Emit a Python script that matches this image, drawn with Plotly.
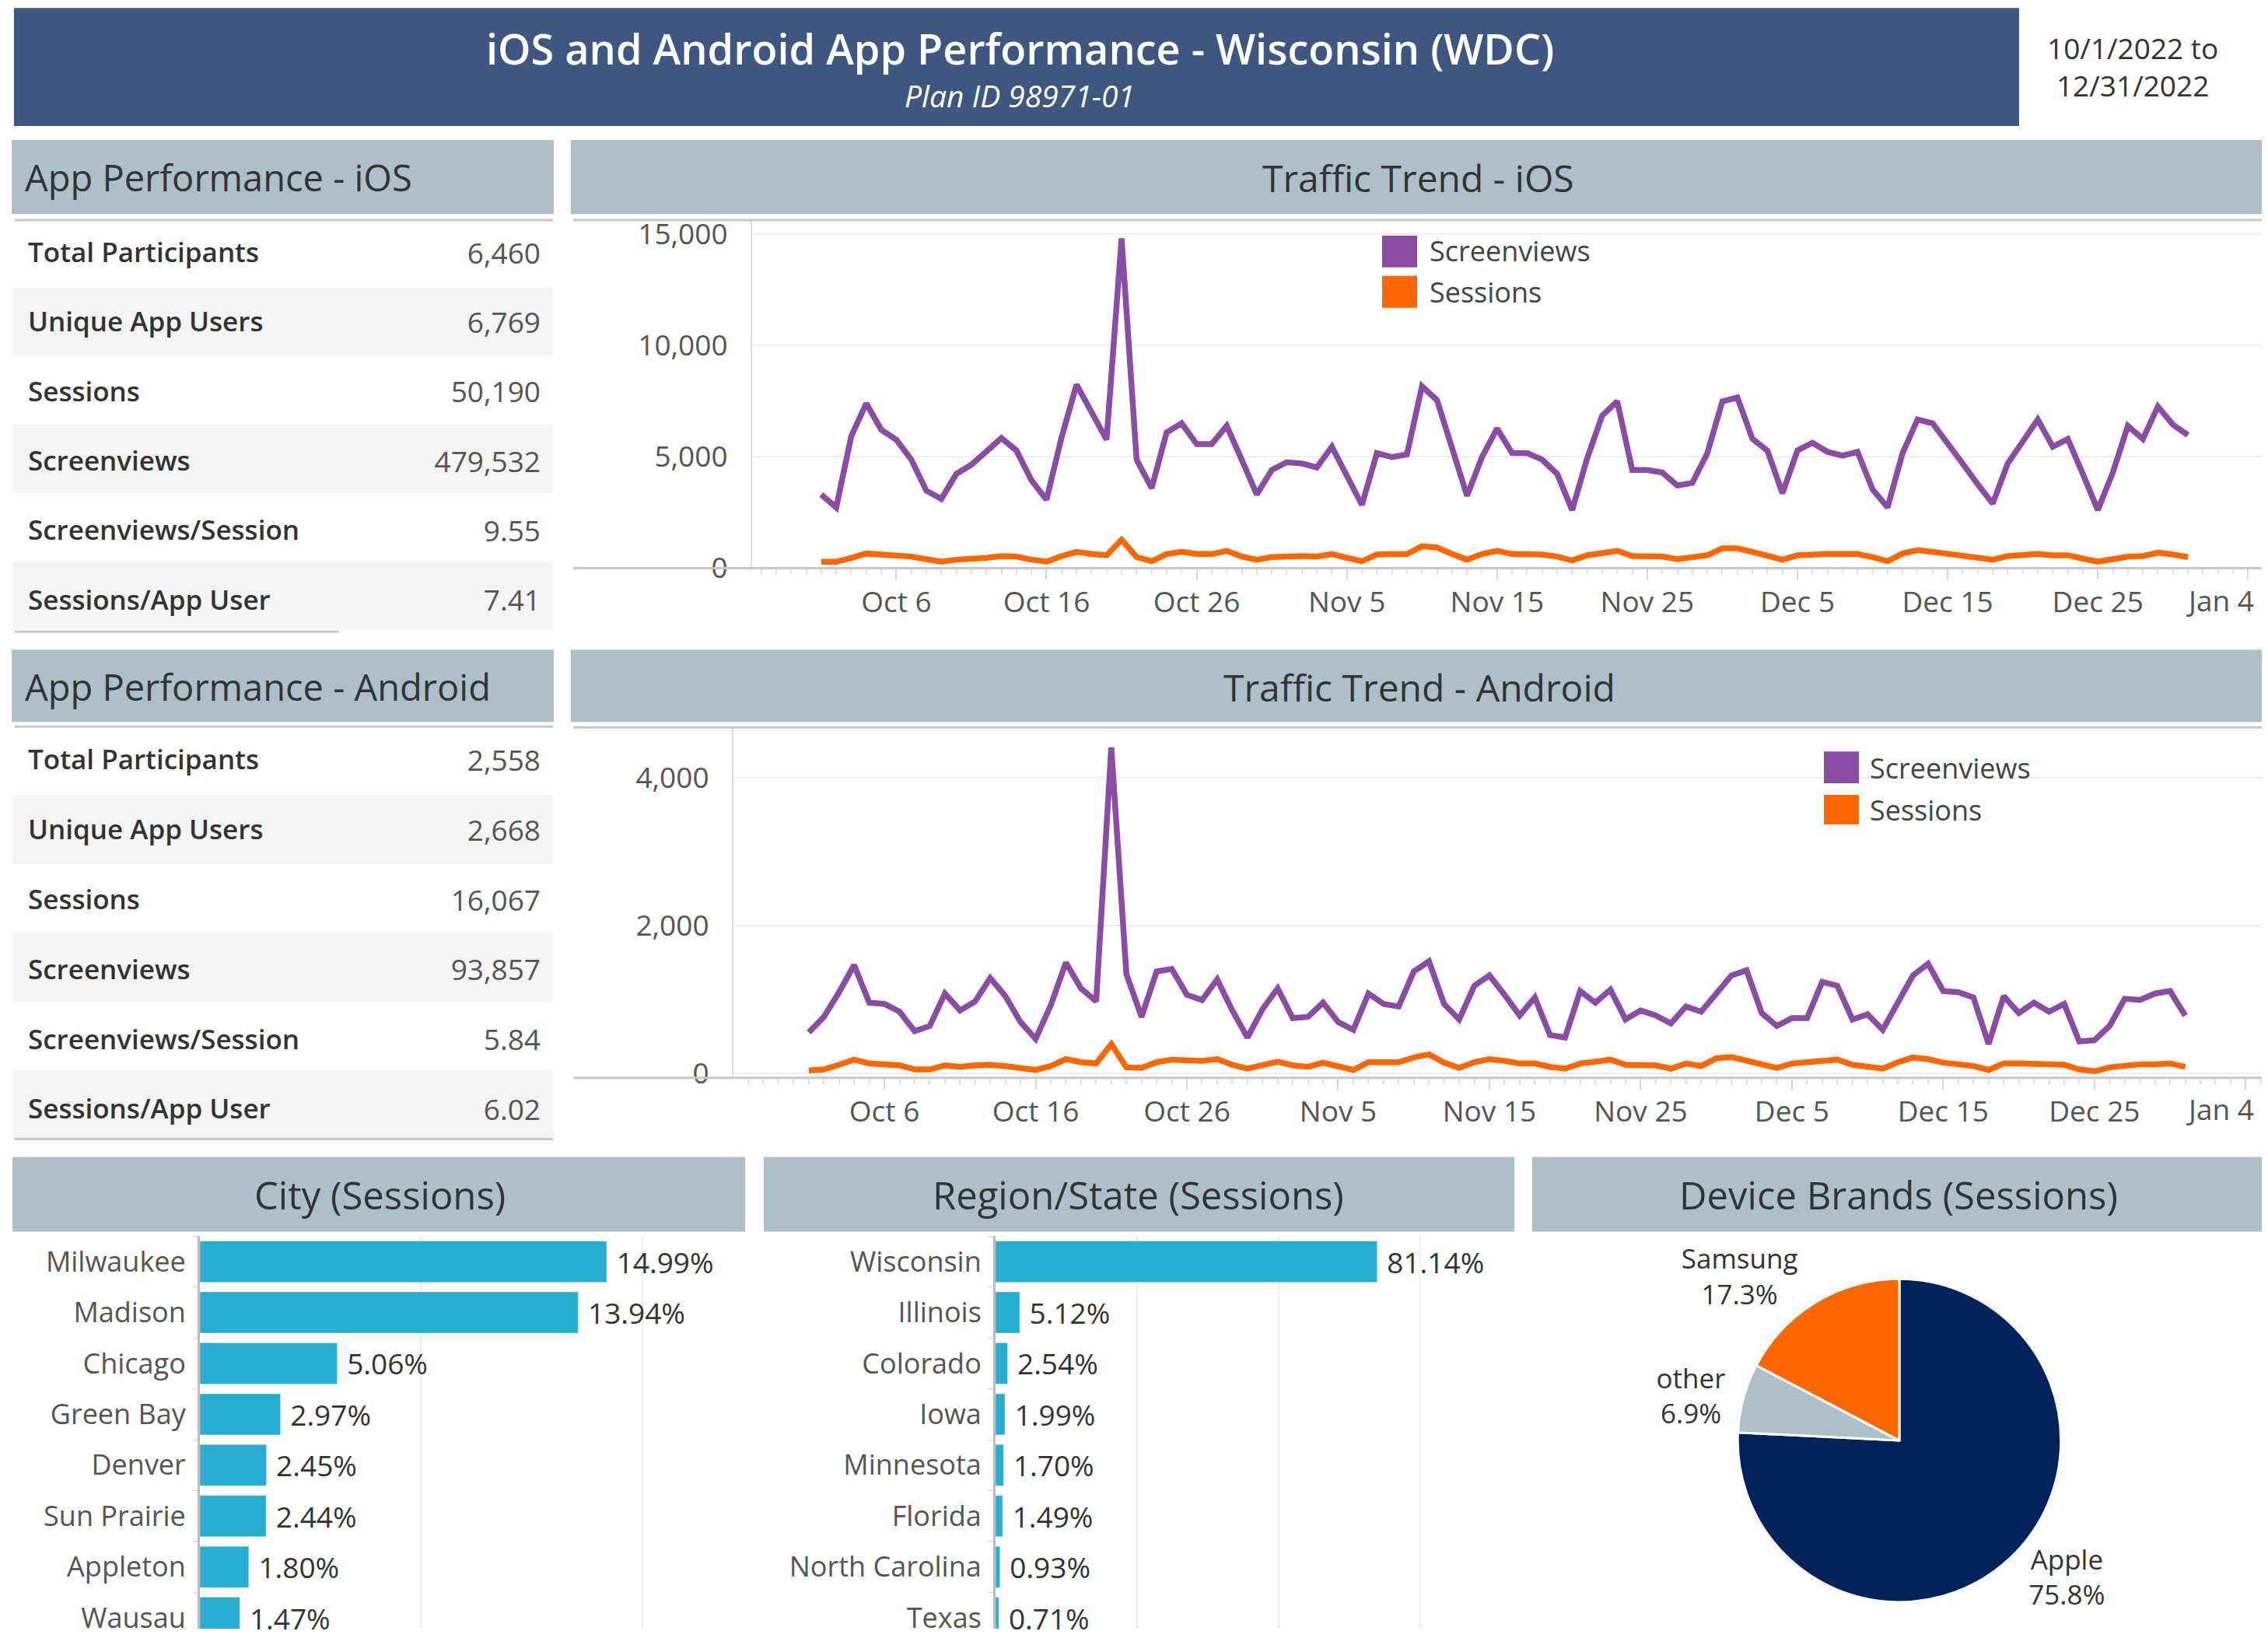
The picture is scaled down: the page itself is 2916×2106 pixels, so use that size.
import plotly.graph_objects as go
import pandas as pd

W, H = 2916, 2106
# the rendered page shows up shifted and slightly squeezed vertically;
# these constants map the reference's pixel positions onto figure pixels
OFFX, OFFY = 8, 17
SY = 0.9855
FW, FH = W - 16, 2110
FONT = "Open Sans"
PURPLE = "#8b4ca5"
ORANGE = "#ff6600"
BANNER = "#3e5781"
HEAD = "#adc0c8"
BLUE = "#27adcf"
NAVY = "#00235a"
GREYBLUE = "#aebfc8"

# ---------------- data ----------------
dates = pd.date_range("2022-10-01", "2022-12-31", freq="D")

ios_screenviews = [3304, 2724, 5918, 7393, 6208, 5766, 4872, 3478, 3106, 4233,
                   4640, 5279, 5836, 5279, 3943, 3072, 5859, 8240, 7021, 5766,
                   14802, 4872, 3594, 6092, 6499, 5569, 5569, 6383, 4872, 3304,
                   4407, 4756, 4698, 4523, 5453, 4117, 2840, 5163, 4988, 5105,
                   8160, 7544, 5453, 3246, 4988, 6266, 5163, 5163, 4872, 4233,
                   2607, 4930, 6848, 7487, 4407, 4407, 4291, 3710, 3826, 5163,
                   7487, 7661, 5801, 5279, 3362, 5279, 5627, 5221, 5047, 5221,
                   3536, 2724, 5163, 6673, 6499, 5627, 4698, 3768, 2897, 4698,
                   5743, 6673, 5453, 5801, 4233, 2607, 4291, 6383, 5801, 7254,
                   6441, 5976]
ios_sessions = [285, 285, 459, 656, 610, 575, 517, 400, 285, 377,
                400, 459, 540, 517, 377, 285, 540, 726, 633, 575,
                1272, 494, 308, 633, 726, 633, 633, 772, 517, 377,
                494, 540, 540, 517, 633, 459, 308, 610, 633, 633,
                981, 923, 633, 377, 633, 772, 633, 610, 610, 517,
                343, 575, 691, 772, 540, 540, 517, 400, 494, 575,
                888, 888, 726, 575, 377, 575, 633, 633, 633, 633,
                494, 308, 656, 807, 726, 633, 575, 424, 377, 540,
                575, 633, 575, 575, 424, 285, 400, 517, 540, 691,
                610, 494]
and_screenviews = [551, 761, 1095, 1463, 954, 937, 832, 568, 639, 1077,
                   849, 972, 1288, 1042, 691, 463, 919, 1498, 1147, 972,
                   4411, 1340, 761, 1376, 1411, 1060, 990, 1270, 849, 481,
                   867, 1147, 744, 761, 954, 691, 586, 1077, 937, 902,
                   1376, 1516, 937, 726, 1183, 1323, 1060, 779, 1025, 516,
                   481, 1112, 954, 1130, 726, 849, 779, 674, 902, 832,
                   1077, 1323, 1393, 814, 639, 744, 744, 1235, 1183, 726,
                   797, 586, 954, 1323, 1481, 1112, 1095, 1025, 393, 1042,
                   814, 954, 832, 937, 428, 446, 639, 1007, 990, 1077,
                   1112, 779]
and_sessions = [35, 49, 112, 182, 130, 119, 105, 49, 49, 105,
                84, 105, 112, 95, 77, 42, 95, 189, 147, 130,
                393, 77, 70, 147, 182, 165, 165, 189, 112, 60,
                112, 154, 105, 84, 140, 84, 42, 147, 147, 147,
                211, 253, 140, 70, 147, 189, 165, 130, 130, 84,
                60, 130, 154, 182, 112, 105, 105, 60, 130, 95,
                200, 218, 175, 112, 70, 130, 147, 147, 182, 112,
                95, 60, 147, 211, 189, 140, 119, 95, 42, 130,
                130, 130, 130, 112, 49, 25, 77, 105, 119, 119,
                130, 84]

kpi_labels = ["Total Participants", "Unique App Users", "Sessions",
              "Screenviews", "Screenviews/Session", "Sessions/App User"]
ios_kpis = [6460, 6769, 50190, 479532, 9.55, 7.41]
and_kpis = [2558, 2668, 16067, 93857, 5.84, 6.02]

cities = ["Milwaukee", "Madison", "Chicago", "Green Bay", "Denver",
          "Sun Prairie", "Appleton", "Wausau"]
city_pct = [14.99, 13.94, 5.06, 2.97, 2.45, 2.44, 1.80, 1.47]

regions = ["Wisconsin", "Illinois", "Colorado", "Iowa", "Minnesota",
           "Florida", "North Carolina", "Texas"]
region_pct = [81.14, 5.12, 2.54, 1.99, 1.70, 1.49, 0.93, 0.71]

brands = ["Apple", "other", "Samsung"]
brand_pct = [75.8, 6.9, 17.3]

title = "iOS and Android App Performance - Wisconsin (WDC)"
subtitle = "Plan ID 98971-01"
date_text = "10/1/2022 to<br>12/31/2022"
last_tick = "Jan 4"


# ---------------- helpers (picture pixels -> paper) ----------------
def px(x):
    return (x - OFFX) / FW


def py(y):
    return 1 - (y / SY - OFFY) / FH


def fmt(v):
    return f"{v:,}" if isinstance(v, int) else f"{v:.2f}"


fig = go.Figure()

# trend traces
LW = 7.5
fig.add_trace(go.Scatter(x=dates, y=ios_screenviews, mode="lines", name="Screenviews",
                         line=dict(color=PURPLE, width=LW), xaxis="x", yaxis="y"))
fig.add_trace(go.Scatter(x=dates, y=ios_sessions, mode="lines", name="Sessions",
                         line=dict(color=ORANGE, width=LW), xaxis="x", yaxis="y"))
fig.add_trace(go.Scatter(x=dates, y=and_screenviews, mode="lines", name="Screenviews",
                         line=dict(color=PURPLE, width=LW), xaxis="x2", yaxis="y2"))
fig.add_trace(go.Scatter(x=dates, y=and_sessions, mode="lines", name="Sessions",
                         line=dict(color=ORANGE, width=LW), xaxis="x2", yaxis="y2"))

# bar traces
bar_text = dict(size=37, color="#333333", family=FONT)
fig.add_trace(go.Bar(x=city_pct, y=cities, orientation="h", marker_color=BLUE, width=0.81,
                     texttemplate="\u00a0%{x:.2f}%", textposition="outside", cliponaxis=False,
                     textfont=bar_text, xaxis="x3", yaxis="y3"))
fig.add_trace(go.Bar(x=region_pct, y=regions, orientation="h", marker_color=BLUE, width=0.81,
                     texttemplate="\u00a0%{x:.2f}%", textposition="outside", cliponaxis=False,
                     textfont=bar_text, xaxis="x4", yaxis="y4"))

# pie
fig.add_trace(go.Pie(labels=brands, values=brand_pct, sort=False, direction="clockwise",
                     rotation=0, marker=dict(colors=[NAVY, GREYBLUE, ORANGE],
                                             line=dict(color="white", width=3)),
                     textposition="outside", texttemplate="%{label}<br>%{percent:.1%}",
                     textfont=dict(size=35, color="#333333", family=FONT), automargin=False,
                     domain=dict(x=[px(2232), px(2652)], y=[py(2062), py(1646)])))


# KPI tables (row shading drawn as bands behind; table text centred in them)
def kpi_table(vals, band_top, rowh):
    rh = rowh / SY
    top = band_top + 17
    bottom = top + (4 + rh * len(kpi_labels) + 2) * SY
    return go.Table(
        domain=dict(x=[px(28), px(703)], y=[py(bottom), py(top)]),
        columnwidth=[430, 245],
        header=dict(values=["", ""], height=4, fill_color="rgba(0,0,0,0)",
                    line=dict(width=0)),
        cells=dict(values=[kpi_labels, [fmt(v) for v in vals]],
                   height=rh, align=["left", "right"],
                   fill_color="rgba(0,0,0,0)", line=dict(width=0),
                   font=dict(family=FONT, size=[35, 37], color=["#333333", "#555555"],
                             weight=[600, 400])))


IOS_TOP, AND_TOP = 282, 935
IOS_ROWH, AND_ROWH = 88, 88.5
fig.add_trace(kpi_table(ios_kpis, IOS_TOP, IOS_ROWH))
fig.add_trace(kpi_table(and_kpis, AND_TOP, AND_ROWH))

tickfont = dict(family=FONT, size=37, color="#555555")
day = 86400000

xdate = dict(type="date", tick0="2022-10-06", dtick=10 * day, tickformat="%b %-d",
             ticks="outside", ticklen=14, tickwidth=2, tickcolor="#d6d6d6",
             minor=dict(ticks="outside", ticklen=7, tickwidth=2, tickcolor="#e2e2e2",
                        dtick=day, tick0="2022-10-01", showgrid=False),
             showgrid=False, zeroline=False, showline=False, tickfont=tickfont,
             ticklabelstandoff=-3)
ynum = dict(tickformat=",", showgrid=True, gridcolor="#eeeeee", gridwidth=2,
            zeroline=False, showline=True, linecolor="#dcdcdc", linewidth=2,
            ticks="", tickfont=tickfont, ticklabelstandoff=22)
BOTTOM = SY * (OFFY + FH)           # last visible picture row of the figure
rows_visible = (BOTTOM - 1591) / 65.5 - 0.5
ycat = dict(type="category", range=[rows_visible, -0.5], showline=True,
            linecolor="#bdbdbd", linewidth=3, ticks="outside", tickson="boundaries",
            ticklen=6, tickcolor="#d0d0d0", ticklabelstandoff=8,
            tickfont=dict(family=FONT, size=36, color="#555555"))

fig.update_layout(
    width=FW, height=FH, margin=dict(l=0, r=0, t=0, b=0),
    paper_bgcolor="white", plot_bgcolor="white", showlegend=False,
    font=dict(family=FONT, color="#333333"),
    xaxis=dict(domain=[px(967), 1], anchor="y",
               range=["2022-09-26 09:36", "2023-01-04 22:00"], **xdate),
    yaxis=dict(domain=[py(731), py(283)], anchor="x", range=[0, 15627],
               tickvals=[0, 5000, 10000, 15000], **ynum),
    xaxis2=dict(domain=[px(943), 1], anchor="y2",
                range=["2022-09-26 00:30", "2023-01-05 01:30"], **xdate),
    yaxis2=dict(domain=[py(1387), py(936)], anchor="x2", range=[-63, 4684],
                tickvals=[0, 2000, 4000], **ynum),
    xaxis3=dict(domain=[px(257), px(958)], anchor="y3", range=[0, 20.09], tick0=0,
                dtick=8.15, showticklabels=False, showgrid=True, gridcolor="#eeeeee",
                gridwidth=2, zeroline=False),
    yaxis3=dict(domain=[0, py(1591)], anchor="x3", **ycat),
    xaxis4=dict(domain=[px(1280), px(1947)], anchor="y4", range=[0, 110.3], tick0=0,
                dtick=30.1, showticklabels=False, showgrid=True, gridcolor="#eeeeee",
                gridwidth=2, zeroline=False),
    yaxis4=dict(domain=[0, py(1591)], anchor="x4", **ycat),
)

# ---------------- shapes ----------------
shapes = []


def rect(x0, y0, x1, y1, color, layer="below"):
    shapes.append(dict(type="rect", xref="paper", yref="paper", x0=px(x0), x1=px(x1),
                       y0=py(y1), y1=py(y0), fillcolor=color, line=dict(width=0),
                       layer=layer))


def hline(x0, x1, y, color="#c8c8c8", width=3):
    shapes.append(dict(type="line", xref="paper", yref="paper", x0=px(x0), x1=px(x1),
                       y0=py(y), y1=py(y), line=dict(color=color, width=width)))


rect(18, 10, 2596, 162, BANNER)
rect(15, 180, 712, 275, HEAD)
rect(734, 180, 2914, 275, HEAD)
rect(15, 836, 712, 929, HEAD)
rect(734, 836, 2914, 929, HEAD)
rect(16, 1489, 958, 1585, HEAD)
rect(982, 1489, 1947, 1585, HEAD)
rect(1970, 1489, 2912, 1585, HEAD)

# alternating KPI row bands
for top, rh in ((IOS_TOP, IOS_ROWH), (AND_TOP, AND_ROWH)):
    for i in range(len(kpi_labels)):
        if i % 2 == 1:
            rect(16, top + i * rh, 711, top + (i + 1) * rh, "#f4f4f4")

hline(19, 711, 283)
hline(19, 711, 935)
hline(19, 436, 813)
hline(19, 711, 1466)

hline(737, 2912, 283)
hline(737, 2912, 731)
hline(737, 2912, 936)
hline(737, 2912, 1387)

# legend swatches
rect(1777, 303, 1822, 344, PURPLE, "above")
rect(1777, 355, 1822, 396, ORANGE, "above")
rect(2345, 967, 2390, 1008, PURPLE, "above")
rect(2345, 1023, 2390, 1061, ORANGE, "above")

fig.update_layout(shapes=shapes)

# ---------------- annotations ----------------
ann = []


def text(x, y, t, size, color="#333333", xanchor="center", weight=400, style="normal"):
    ann.append(dict(xref="paper", yref="paper", x=px(x), y=py(y), text=t,
                    showarrow=False, xanchor=xanchor, yanchor="middle",
                    font=dict(family=FONT, size=size, color=color, weight=weight,
                              style=style)))


text(1311, 62, title, 54, "white", weight=600)
text(1311, 122, subtitle, 39, "white", style="italic")
text(2630, 85, date_text, 37, "#333333", xanchor="left")

text(30, 228, "App Performance - iOS", 47, "#333333", xanchor="left")
text(1823, 228, "Traffic Trend - iOS", 48)
text(30, 884, "App Performance - Android", 47, "#333333", xanchor="left")
text(1825, 884, "Traffic Trend - Android", 48)
text(488, 1538, "City (Sessions)", 49)
text(1464, 1538, "Region/State (Sessions)", 49)
text(2441, 1538, "Device Brands (Sessions)", 49)

text(1836, 323, "Screenviews", 36, "#444444", xanchor="left")
text(1836, 376, "Sessions", 36, "#444444", xanchor="left")
text(2402, 988, "Screenviews", 36, "#444444", xanchor="left")
text(2402, 1042, "Sessions", 36, "#444444", xanchor="left")

# last date tick label, pulled inside the window edge as in the reference
text(2900, 772, last_tick, 37, "#555555", xanchor="right")
text(2900, 1427, last_tick, 37, "#555555", xanchor="right")

fig.update_layout(annotations=ann)

fig.write_html("out.html", config={"displayModeBar": False})
